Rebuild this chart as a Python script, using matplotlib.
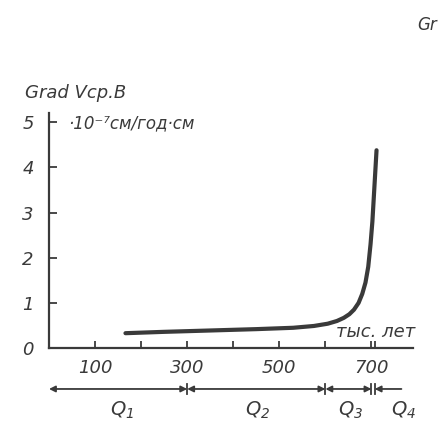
import matplotlib.pyplot as plt

# кривая градиента скорости (тыс. лет, 10^-7 см/год·см)
age = [166, 250, 350, 450, 530, 575, 605, 625, 640, 652, 662, 672, 680, 687, 693, 698, 702, 706, 711]
grad = [0.33, 0.36, 0.39, 0.42, 0.45, 0.49, 0.54, 0.60, 0.67, 0.75, 0.85, 1.0, 1.2, 1.45, 1.8, 2.3, 2.8, 3.5, 4.38]

x_major = [100, 300, 500, 700]
x_minor = [200, 400, 600, 707]
y_ticks = [0, 1, 2, 3, 4, 5]

# границы подразделений четвертичного периода
q_edges = [0, 300, 600, 700, 707]
q_names = ["$Q_1$", "$Q_2$", "$Q_3$", "$Q_4$"]
q_label_x = [158, 452, 654, 770]

ink = "#3a3a3a"
plt.rcParams['font.family'] = ['DejaVu Sans']
plt.rcParams['mathtext.fontset'] = 'custom'
plt.rcParams['mathtext.it'] = 'DejaVu Sans:italic'
plt.rcParams['mathtext.rm'] = 'DejaVu Sans:italic'

fig = plt.figure(figsize=(4.39, 4.24), dpi=100)
ax = fig.add_axes([0.1116, 0.179, 0.829, 0.554])

ax.plot(age, grad, color=ink, lw=3, solid_capstyle='round', solid_joinstyle='round')

ax.set_xlim(0, 790)
ax.set_ylim(0, 5.2)
for s in ["top", "right"]:
    ax.spines[s].set_visible(False)
for s in ["left", "bottom"]:
    ax.spines[s].set_color(ink)
    ax.spines[s].set_linewidth(1.6)

ax.set_xticks(x_major)
ax.set_xticklabels([str(v) for v in x_major], style='italic', fontsize=13, color=ink)
ax.set_xticks(x_minor, minor=True)
ax.set_yticks(y_ticks)
ax.set_yticklabels([str(v) for v in y_ticks], style='italic', fontsize=13, color=ink)
ax.tick_params(axis='x', which='both', direction='in', length=5, width=1.3, color=ink, pad=8)
ax.tick_params(axis='y', direction='in', length=6, width=1.3, color=ink, pad=11)

# стрелки интервалов Q
yq = -0.174
for a, b in zip(q_edges[:-1], q_edges[1:]):
    if b - a > 20:
        ax.annotate("", xy=(a, yq), xytext=(b, yq), xycoords=('data', 'axes fraction'),
                    textcoords=('data', 'axes fraction'),
                    arrowprops=dict(arrowstyle='<|-|>', color=ink, lw=1.3,
                                    shrinkA=0, shrinkB=0, mutation_scale=9),
                    annotation_clip=False)
ax.annotate("", xy=(q_edges[-1], yq), xytext=(765, yq), xycoords=('data', 'axes fraction'),
            textcoords=('data', 'axes fraction'),
            arrowprops=dict(arrowstyle='-|>', color=ink, lw=1.3,
                            shrinkA=0, shrinkB=0, mutation_scale=9),
            annotation_clip=False)
for e in q_edges[1:]:
    ax.plot([e, e], [yq - 0.02, yq + 0.02], color=ink, lw=1.3,
            transform=ax.get_xaxis_transform(), clip_on=False)
for name, xl in zip(q_names, q_label_x):
    ax.text(xl, -0.264, name, transform=ax.get_xaxis_transform(), ha='center', va='center',
            fontsize=14, color=ink)

ax.text(622, 0.36, "тыс. лет", style='italic', fontsize=13, color=ink,
        ha='left', va='center', clip_on=False)

fig.text(25 / 439, 1 - 93 / 424, "Grad Vср.В", style='italic', fontsize=13,
         color=ink, ha='left', va='center')
fig.text(68 / 439, 1 - 123 / 424, "·10⁻⁷см/год·см", style='italic', fontsize=12,
         color=ink, ha='left', va='center')
fig.text(437 / 439, 1 - 25 / 424, "Gr", style='italic', fontsize=12,
         color=ink, ha='right', va='center')

fig.savefig("out.png", dpi=100)
